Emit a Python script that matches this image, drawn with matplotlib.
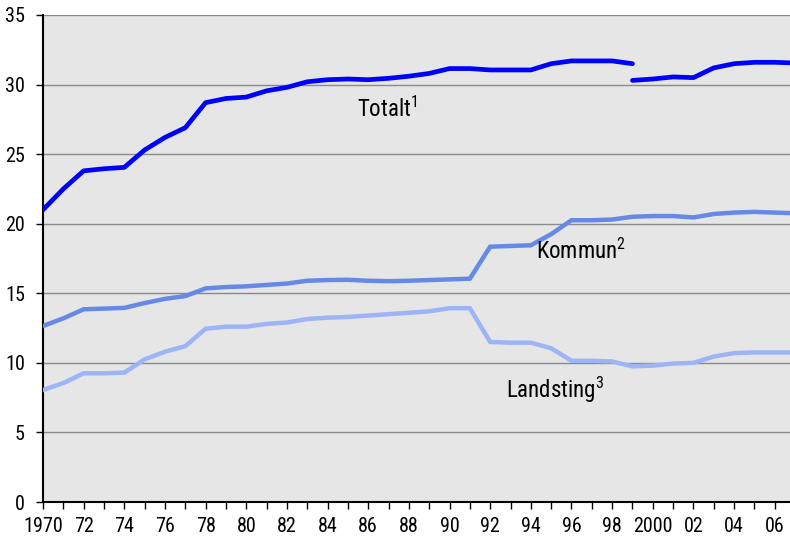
#!/usr/bin/env python3

import numpy as np
import matplotlib
matplotlib.use('Agg')
import matplotlib.pyplot as plt

plt.rcParams['font.family'] = ['Roboto Condensed', 'DejaVu Sans']
plt.rcParams['mathtext.fontset'] = 'custom'
plt.rcParams['mathtext.rm'] = 'Roboto Condensed'

years = list(range(1970, 2008))

# Totalt, up to 1999 (old series) and from 1999 (new series)
totalt_old_years = list(range(1970, 2000))
totalt_old = [21.0, 22.5, 23.8, 23.95, 24.05, 25.3, 26.2, 26.9, 28.7, 29.0,
              29.1, 29.55, 29.8, 30.2, 30.35, 30.4, 30.35, 30.45, 30.6, 30.8,
              31.15, 31.15, 31.05, 31.05, 31.05, 31.5, 31.7, 31.7, 31.7, 31.5]
totalt_new_years = list(range(1999, 2008))
totalt_new = [30.3, 30.4, 30.55, 30.5, 31.2, 31.5, 31.6, 31.6, 31.55]

kommun = [12.65, 13.2, 13.85, 13.9, 13.95, 14.3, 14.6, 14.8, 15.35, 15.45,
          15.5, 15.6, 15.7, 15.9, 15.95, 15.97, 15.9, 15.87, 15.9, 15.95,
          16.0, 16.05, 18.35, 18.4, 18.45, 19.25, 20.25, 20.25, 20.3, 20.5,
          20.55, 20.55, 20.45, 20.7, 20.8, 20.85, 20.8, 20.75]

landsting = [8.05, 8.55, 9.25, 9.25, 9.3, 10.25, 10.8, 11.2, 12.45, 12.6,
             12.6, 12.8, 12.9, 13.15, 13.25, 13.3, 13.4, 13.5, 13.6, 13.7,
             13.93, 13.93, 11.5, 11.45, 11.45, 11.05, 10.15, 10.15, 10.1, 9.75,
             9.8, 9.95, 10.0, 10.45, 10.7, 10.75, 10.75, 10.75]

tick_years = list(range(1970, 2007, 2))
tick_labels = ['1970', '72', '74', '76', '78', '80', '82', '84', '86', '88',
               '90', '92', '94', '96', '98', '2000', '02', '04', '06']

fig = plt.figure(figsize=(7.9, 5.42), dpi=100)
ax = fig.add_axes([43 / 790, 40 / 542, 1 - 43 / 790, 487 / 542])
ax.set_facecolor('#e6e6e6')

for y in range(5, 40, 5):
    ax.axhline(y, color='#8a8a8a', linewidth=1.0, zorder=1)

ax.plot(years, landsting, color='#9db5f7', linewidth=3.2, zorder=3,
        solid_joinstyle='miter')
ax.plot(years, kommun, color='#6688e6', linewidth=3.2, zorder=3,
        solid_joinstyle='miter')
ax.plot(totalt_old_years, totalt_old, color='#0000ff', linewidth=3.4,
        zorder=4, solid_capstyle='round')
ax.plot(totalt_new_years, totalt_new, color='#0000ff', linewidth=3.4,
        zorder=4, solid_capstyle='round')

ax.text(1985.45, 28.2, 'Totalt$^1$', fontsize=16.5, va='center', ha='left')
ax.text(1994.25, 18.0, 'Kommun$^2$', fontsize=16.5, va='center', ha='left')
ax.text(1992.8, 8.05, 'Landsting$^3$', fontsize=16.5, va='center', ha='left')

ax.set_xlim(1970, 2006.75)
ax.set_ylim(0, 35)
ax.set_yticks(range(0, 40, 5))
ax.set_xticks(years[:-1], minor=True)
ax.set_xticks(tick_years)
ax.set_xticklabels(tick_labels)

ax.tick_params(axis='x', which='both', direction='out', length=5, width=1,
               labelsize=14.5, pad=6)
ax.tick_params(axis='y', direction='out', length=5, width=1,
               labelsize=14.5, pad=8)

for side in ['left', 'bottom']:
    ax.spines[side].set_color('black')
    ax.spines[side].set_linewidth(1.5)
ax.spines['right'].set_visible(False)
ax.spines['top'].set_visible(False)

plt.savefig('out.png', dpi=100)
